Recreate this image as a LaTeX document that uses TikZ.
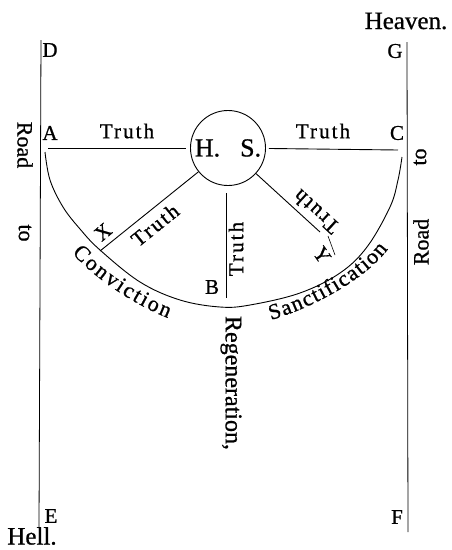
\documentclass[tikz,border=0pt]{standalone}
\usepackage{fontspec}
\setmainfont{Liberation Serif}[FakeBold=0.8]
\newfontfamily\spcfont[LetterSpace=10,FakeBold=0.8]{Liberation Serif}
\usetikzlibrary{decorations.text}
\begin{document}
\begin{tikzpicture}[x=1pt,y=-1pt, line width=0.9pt,
  lbl/.style={inner sep=0pt, font=\fontsize{21}{21}\selectfont},
  big/.style={inner sep=0pt, font=\fontsize{25}{25}\selectfont},
  truthlbl/.style={inner sep=0pt, font=\fontsize{21}{21}\spcfont},
  roadlbl/.style={inner sep=0pt, font=\fontsize{22}{22}\selectfont},
  hsnode/.style={circle, draw, minimum size=75pt, inner sep=0pt, font=\fontsize{26}{26}\selectfont},
  curvetext/.style={decorate, decoration={text along path, text align=fit to path, text={|\fontsize{22}{22}\selectfont|#1}}}
]
\useasboundingbox (0,0) rectangle (451,550);

% roads
\coordinate (dtop) at (41,40);
\coordinate (ebot) at (39,527);
\coordinate (gtop) at (407,42);
\coordinate (fbot) at (408,532);
\draw[line width=0.8pt] (dtop) -- (ebot);
\draw[line width=0.8pt] (gtop) -- (fbot);

% corner labels
\node[lbl] (D) at (50,50) {D};
\node[lbl] (G) at (395,51) {G};
\node[lbl] (A) at (50,133) {A};
\node[lbl] (C) at (397,133) {C};
\node[lbl] (E) at (51,516) {E};
\node[lbl] (F) at (397,517) {F};
\node[big] (heaven) at (406,21) {Heaven.};
\node[big] (hell) at (32,536) {Hell.};

\node[roadlbl, rotate=-90] (roadL) at (25,145) {Road};
\node[roadlbl, rotate=-90] (toL) at (25,233) {to};
\node[roadlbl, rotate=90] (toR) at (420,157) {to};
\node[roadlbl, rotate=90] (roadR) at (421,242) {Road};

% Holy Spirit circle
\node[hsnode] (hs) at (228,148) {H.\hspace{20pt}S.};

\coordinate (a0) at (48,148);
\coordinate (c0) at (398,150);
\draw[shorten >=4pt] (a0) -- (hs);
\draw[shorten <=3pt] (hs) -- (c0);
\node[truthlbl] (t1) at (127,131) {Truth};
\node[truthlbl] (t2) at (323,131) {Truth};

% slanted and vertical rays
\coordinate (xe) at (100,251);
\coordinate (ye) at (320,232);
\draw (hs) -- (xe);
\draw (hs) -- (ye);
\coordinate (b1) at (226,193);
\coordinate (b2) at (226,298);
\draw (b1) -- (b2);
\coordinate (y1) at (328,236);
\coordinate (y2) at (335,255);
\draw[line width=0.6pt] (y1) -- (y2);

\node[truthlbl, rotate=38.8] (t3) at (155,225) {Truth};
\node[truthlbl, rotate=90] (t4) at (236,249) {Truth};
\node[truthlbl, rotate=137.6] (t5) at (316,212) {Truth};

\node[lbl, rotate=40] (X) at (103,232) {X};
\node[lbl, rotate=-55] (Y) at (322,255) {Y};
\node[lbl] (B) at (212,287) {B};

% the arc
\draw plot[smooth, tension=0.6] coordinates {(45,152) (50,180) (63,207) (80,229) (100,250) (140,282) (180,300) (220,307) (250,305) (300,293) (340,273) (367,247) (390,207) (398,180) (402,157)};

% curved labels
\coordinate (cv1) at (72,253);
\coordinate (cv2) at (168,318);
\coordinate (sn1) at (271,320);
\coordinate (sn2) at (388,249);
\path[curvetext=Conviction] (cv1) .. controls (95,279) and (136.5,305.7) .. (cv2);
\path[curvetext=Sanctification] (sn1) .. controls (309.4,308.8) and (364,281) .. (sn2);

\node[inner sep=0pt, font=\fontsize{24}{24}\selectfont, rotate=-90] (regen) at (231,383) {Regeneration,};
\end{tikzpicture}
\end{document}
